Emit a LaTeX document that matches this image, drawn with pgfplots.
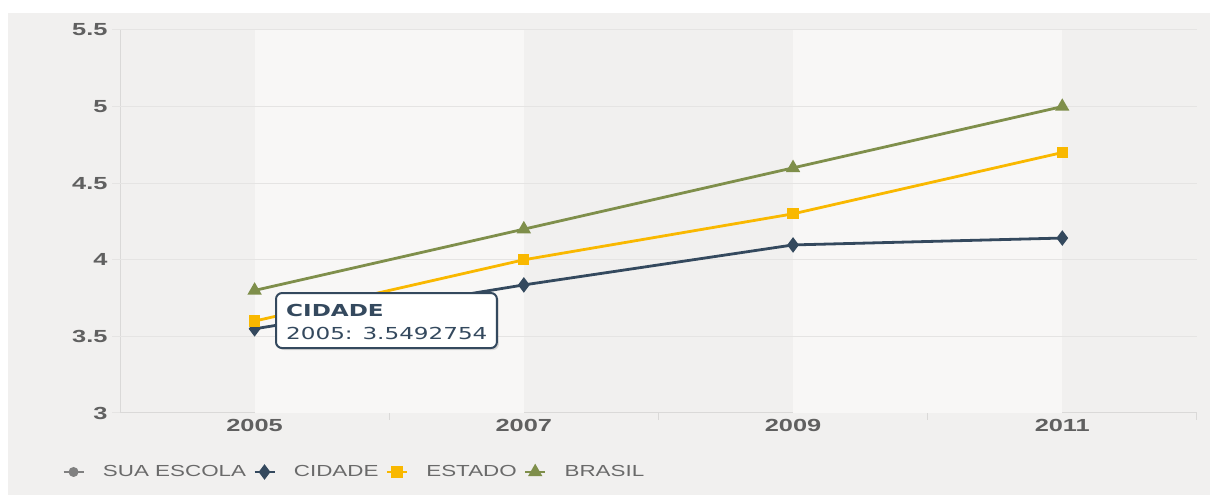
\documentclass[border=0pt]{standalone}
\usepackage{fontspec}
\setmainfont{Liberation Sans}
\newfontfamily\tickfont[FakeStretch=1.45]{Liberation Sans}
\newfontfamily\legfont[FakeStretch=1.4]{Liberation Sans}
\newfontfamily\tipfont[FakeStretch=1.4]{DejaVu Sans}
\usepackage{pgfplots}
\pgfplotsset{compat=1.18}
\definecolor{panelbg}{HTML}{F1F0EF}
\definecolor{bandlt}{HTML}{F8F7F6}
\definecolor{gridc}{HTML}{E5E4E3}
\definecolor{axisc}{HTML}{DAD9D8}
\definecolor{tickc}{HTML}{606060}
\definecolor{legc}{HTML}{6A6A6A}
\definecolor{cidade}{HTML}{34495E}
\definecolor{estado}{HTML}{F9B800}
\definecolor{brasil}{HTML}{7F8F4B}
\definecolor{escola}{HTML}{808080}
\begin{document}
\begin{tikzpicture}
\fill[white] (0pt,0pt) rectangle (1210pt,495pt);
\fill[panelbg] (8pt,0pt) rectangle (1210pt,482pt);
\begin{axis}[
  at={(120pt,82pt)}, anchor=south west,
  width=1077pt, height=383pt, scale only axis,
  xmin=2004, xmax=2012, ymin=3, ymax=5.5,
  axis x line*=bottom, axis y line*=left,
  axis line style={draw=axisc, line width=1pt},
  x axis line style={-}, y axis line style={-},
  xtick={2005,2007,2009,2011},
  minor xtick={2006,2008,2010,2012},
  ytick={3,3.5,4,4.5,5,5.5},
  major x tick style={draw=none},
  minor x tick style={draw=axisc, line width=1pt},
  minor tick length=7pt,
  y tick style={draw=gridc, line width=1pt},
  major tick length=8pt,
  tick align=outside,
  /pgf/number format/1000 sep={},
  /pgf/number format/assume math mode=true,
  ticklabel style={font=\tickfont\bfseries\fontsize{17.5}{19}\selectfont, text=tickc},
  xticklabel style={yshift=5pt},
  yticklabel style={xshift=-1pt},
  legend columns=-1,
  legend style={at={(-0.0539,-0.1540)}, anchor=west, draw=none, fill=none,
    font=\legfont\fontsize{16}{18}\selectfont, text=legc, inner sep=0pt,
    /tikz/every odd column/.append style={column sep=16pt},
    /tikz/every even column/.append style={column sep=5pt}},
  legend image code/.code={\draw[mark repeat=2,mark phase=2] plot coordinates {(0pt,0pt) (10pt,0pt) (20pt,0pt)};},
  every mark/.append style={xscale=1.35},
]
\fill[bandlt] (axis cs:2005,3) rectangle (axis cs:2007,5.5);
\fill[bandlt] (axis cs:2009,3) rectangle (axis cs:2011,5.5);
\foreach \yy in {3.5,4,4.5,5,5.5} {
  \edef\tmp{\noexpand\draw[gridc, line width=1pt] (axis cs:2004,\yy) -- (axis cs:2012,\yy);}
  \tmp
}
\addlegendimage{escola, line width=2.8pt, mark=*, mark size=3.5pt}
\addlegendentry{SUA ESCOLA}
\addplot[cidade, line width=2.8pt, mark=diamond*, mark size=5.5pt] coordinates {(2005,3.5492754) (2007,3.836) (2009,4.097) (2011,4.142)};
\addlegendentry{CIDADE}
\addplot[estado, line width=2.8pt, mark=square*, mark size=4.2pt] coordinates {(2005,3.6) (2007,4.0) (2009,4.3) (2011,4.7)};
\addlegendentry{ESTADO}
\addplot[brasil, line width=2.8pt, mark=triangle*, mark size=5.5pt] coordinates {(2005,3.8) (2007,4.2) (2009,4.6) (2011,5.0)};
\addlegendentry{BRASIL}
\fill[black, opacity=0.12, rounded corners=6pt] ([xshift=2pt,yshift=-2pt]axis cs:2005.159,3.783) rectangle ([xshift=2pt,yshift=-2pt]axis cs:2006.80,3.424);
\draw[cidade, fill=white, line width=2pt, rounded corners=6pt] (axis cs:2005.159,3.783) rectangle (axis cs:2006.80,3.424);
\node[anchor=north west, align=left, inner sep=0pt, text=cidade, font=\tipfont\fontsize{16.5}{23}\selectfont] at ([xshift=10pt,yshift=-11pt]axis cs:2005.159,3.783) {\textbf{CIDADE}\\2005: 3.5492754};
\end{axis}
\pgfresetboundingbox
\useasboundingbox (0pt,0pt) rectangle (1210pt,495pt);
\end{tikzpicture}
\end{document}
